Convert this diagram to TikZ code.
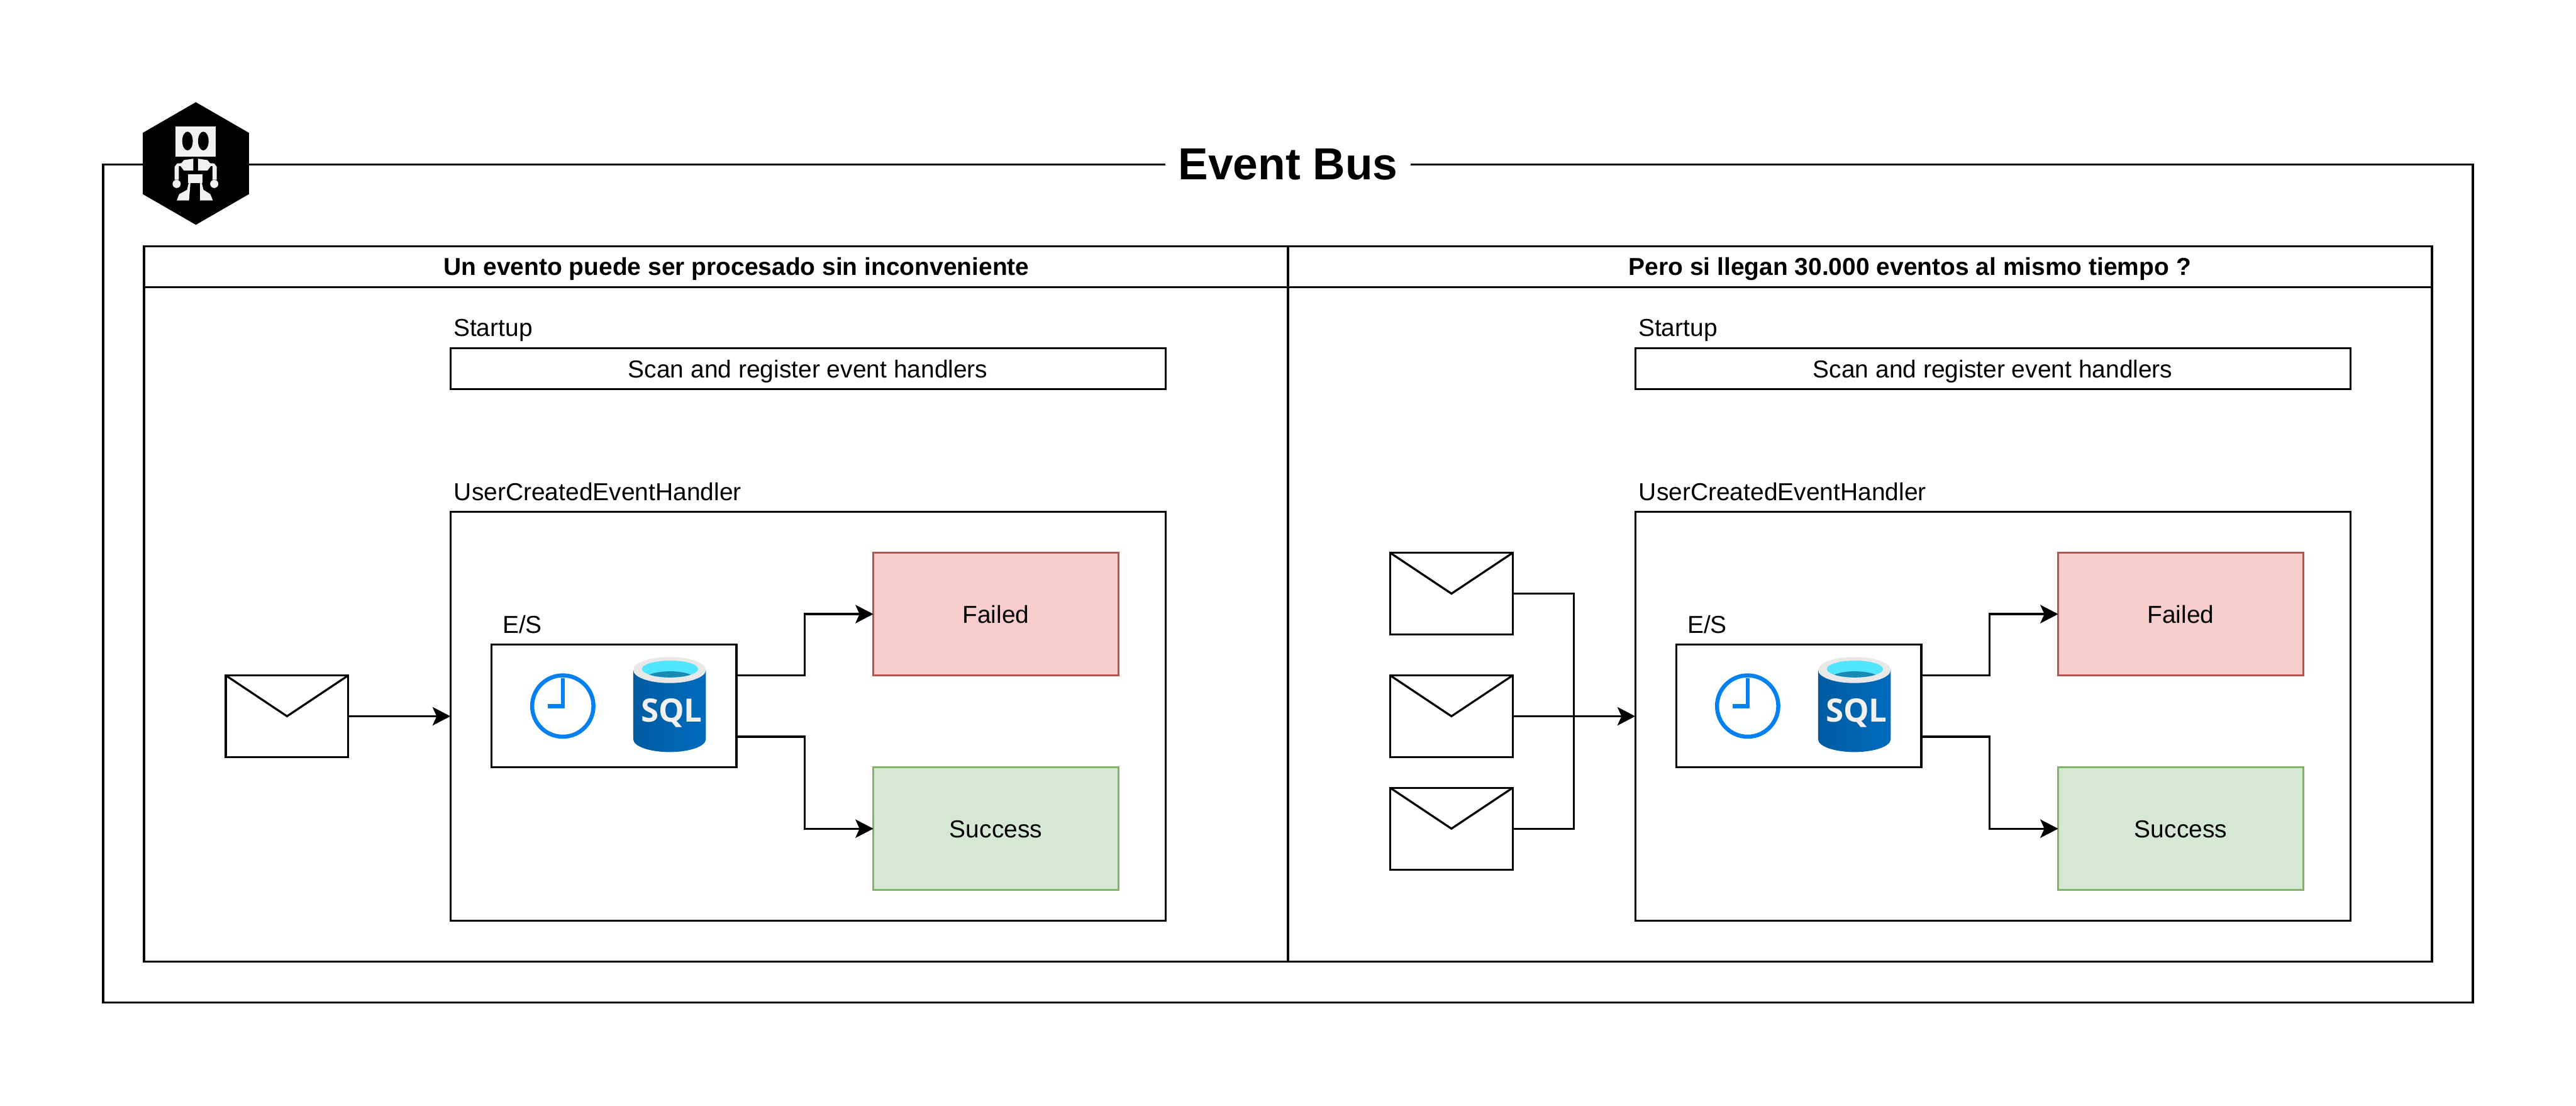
\documentclass[tikz,border=0pt]{standalone}
\usepackage{fontspec}
\setmainfont{Liberation Sans}
\newfontfamily\sqlfont{Open Sans}
\usepackage{tikz}
\usetikzlibrary{calc,arrows.meta,positioning,shapes.geometric}
\definecolor{failfill}{HTML}{F8CECC}
\definecolor{faildraw}{HTML}{B85450}
\definecolor{okfill}{HTML}{D5E8D4}
\definecolor{okdraw}{HTML}{82B366}
\definecolor{clockblue}{HTML}{0381F2}
\definecolor{robotgray}{HTML}{F2F0F0}
\definecolor{sqlleft}{HTML}{005BA1}
\definecolor{sqlmid}{HTML}{0078D4}
\definecolor{sqlright}{HTML}{006CBE}
\definecolor{sqlrim}{HTML}{E8E8E8}
\definecolor{sqlwater}{HTML}{50E6FF}
\definecolor{sqldeep}{HTML}{198AB3}
\tikzset{
  block/.style={draw=black, rectangle, fill=white, align=center, inner sep=0pt, outer sep=0pt,
    text height=0.35cm, text depth=0cm},
  lane/.style={block, minimum width=22.4cm, minimum height=14cm},
  lanehead/.style={block, minimum width=22.4cm, minimum height=0.8cm},
  startbox/.style={block, minimum width=14cm, minimum height=0.8cm},
  handlerbox/.style={block, minimum width=14cm, minimum height=8cm},
  iobox/.style={block, minimum width=4.8cm, minimum height=2.4cm},
  failbox/.style={iobox, draw=faildraw, fill=failfill},
  okbox/.style={iobox, draw=okdraw, fill=okfill},
  mail/.style={block, minimum width=2.4cm, minimum height=1.6cm},
  caption/.style={inner sep=0pt, outer sep=0pt, anchor=base west},
  headtext/.style={caption, font=\fontsize{13.65pt}{16pt}\selectfont\bfseries},
  arr/.style={-{Stealth[length=3.5mm,width=3.6mm,inset=0.8mm]}},
  ioicons/.pic={
    \draw[clockblue, line width=0.08cm] (-1,0) circle (0.6cm);
    \draw[clockblue, line width=0.08cm] (-1,0.54) -- (-1,0) -- (-1.3,0);
    \path[left color=sqlleft, middle color=sqlmid, right color=sqlright]
      (0.38,0.71) -- (0.38,-0.65) arc[start angle=180, end angle=360, x radius=0.71cm, y radius=0.25cm]
      -- (1.80,0.71) -- cycle;
    \fill[sqlrim] (1.09,0.705) ellipse[x radius=0.71cm, y radius=0.255cm];
    \fill[sqlwater] (1.10,0.725) ellipse[x radius=0.55cm, y radius=0.165cm];
    \begin{scope}
      \clip (1.10,0.725) ellipse[x radius=0.55cm, y radius=0.165cm];
      \fill[sqldeep] (1.10,0.52) ellipse[x radius=0.50cm, y radius=0.16cm];
    \end{scope}
    \node[inner sep=0pt, anchor=base, text=robotgray, font=\sqlfont\fontsize{17.9pt}{20pt}\selectfont\bfseries] (-sql) at (1.13,-0.31) {SQL};
  },
  robot/.pic={
    \begin{scope}[x=0.03333mm, y=-0.03333mm, shift={(-430,-420)}, robotgray]
      \fill (310,203) rectangle (547,378);
      \fill[black] (381,288) ellipse[x radius=31, y radius=55];
      \fill[black] (474,288) ellipse[x radius=31, y radius=55];
      \fill (415,380) -- (415,462) -- (360,462) -- (340,435) -- (330,435) -- (330,515) -- (305,515)
        -- (305,440) -- (320,420) -- (345,418) -- (360,400) -- (415,392) -- cycle;
      \fill (443,380) -- (443,462) -- (498,462) -- (518,435) -- (528,435) -- (528,515) -- (553,515)
        -- (553,440) -- (538,420) -- (513,418) -- (498,400) -- (443,392) -- cycle;
      \fill (317,540) circle (24);
      \fill (538,540) circle (24);
      \fill (383,482) rectangle (470,535);
      \fill (398,535) -- (390,637) -- (318,637) -- (332,600) -- (378,575) -- (388,535) -- cycle;
      \fill (455,535) -- (455,637) -- (530,637) -- (515,600) -- (475,575) -- (465,535) -- cycle;
    \end{scope}
  }
}
\begin{document}
\begin{tikzpicture}[line width=0.04cm, font=\fontsize{13.65pt}{16pt}\selectfont]
  \path[use as bounding box, fill=white] (0,0) rectangle (50.44,-21.64);

  \node[block, minimum width=46.4cm, minimum height=16.4cm, anchor=north west] (bus) at (2.02,-3.22) {};
  \node[block, draw=none, minimum width=4.8cm, anchor=base, font=\fontsize{25pt}{28pt}\selectfont\bfseries, text height=0.63cm] (bustitle) at (25.22,-3.52) {Event Bus};
  \node[regular polygon, regular polygon sides=6, shape border rotate=30, minimum size=2.4cm, inner sep=0pt, fill=black] (hex) at (3.835,-3.20) {};
  \pic (bot) at (hex.center) {robot};

  \node[lane, anchor=north west] (laneL) at (2.82,-4.82) {};
  \node[lane, right=0cm of laneL] (laneR) {};
  \node[lanehead, anchor=north] (headL) at (laneL.north) {};
  \node[lanehead, anchor=north] (headR) at (laneR.north) {};
  \node[headtext] (titleL) at (8.69,-5.39) {Un evento puede ser procesado sin inconveniente};
  \node[headtext] (titleR) at (31.89,-5.39) {Pero si llegan 30.000 eventos al mismo tiempo ?};

  \node[startbox, anchor=north west] (startL) at (8.82,-6.82) {Scan and register event handlers};
  \node[handlerbox, below=2.4cm of startL] (handlerL) {};
  \node[iobox, anchor=north west] (esL) at ($(handlerL.north west)+(0.8,-2.6)$) {};
  \node[failbox, anchor=north west] (failedL) at ($(handlerL.north west)+(8.28,-0.8)$) {Failed};
  \node[okbox, below=1.8cm of failedL] (successL) {Success};
  \node[mail, left=2cm of handlerL] (mailL) {};
  \node[caption] (startcapL) at ($(startL.north west)+(0.06,0.24)$) {Startup};
  \node[caption] (handlercapL) at ($(handlerL.north west)+(0.07,0.22)$) {UserCreatedEventHandler};
  \node[caption] (escapL) at ($(esL.north west)+(0.22,0.22)$) {E/S};
  \pic (iconsL) at (esL.center) {ioicons};

  \node[startbox, anchor=north west] (startR) at (32.02,-6.82) {Scan and register event handlers};
  \node[handlerbox, below=2.4cm of startR] (handlerR) {};
  \node[iobox, anchor=north west] (esR) at ($(handlerR.north west)+(0.8,-2.6)$) {};
  \node[failbox, anchor=north west] (failedR) at ($(handlerR.north west)+(8.28,-0.8)$) {Failed};
  \node[okbox, below=1.8cm of failedR] (successR) {Success};
  \node[mail, left=2.4cm of handlerR] (mailM) {};
  \node[mail, above=0.8cm of mailM] (mailT) {};
  \node[mail, below=0.6cm of mailM] (mailB) {};
  \node[caption] (startcapR) at ($(startR.north west)+(0.06,0.24)$) {Startup};
  \node[caption] (handlercapR) at ($(handlerR.north west)+(0.07,0.22)$) {UserCreatedEventHandler};
  \node[caption] (escapR) at ($(esR.north west)+(0.22,0.22)$) {E/S};
  \pic (iconsR) at (esR.center) {ioicons};

  \foreach \m in {mailL,mailT,mailM,mailB}
    \draw (\m.north west) -- (\m.center) -- (\m.north east);

  \draw[arr] (mailL) -- (handlerL);
  \draw[arr] ($(esL.east)+(0,0.6)$) -- ++(1.34,0) |- (failedL);
  \draw[arr] ($(esL.east)+(0,-0.6)$) -- ++(1.34,0) |- (successL);

  \coordinate[left=1.2cm of handlerR] (trunk);
  \draw (mailT.east) -| (trunk);
  \draw (mailB.east) -| (trunk);
  \draw[arr] (mailM) -- (handlerR);
  \draw[arr] ($(esR.east)+(0,0.6)$) -- ++(1.34,0) |- (failedR);
  \draw[arr] ($(esR.east)+(0,-0.6)$) -- ++(1.34,0) |- (successR);
\end{tikzpicture}
\end{document}
